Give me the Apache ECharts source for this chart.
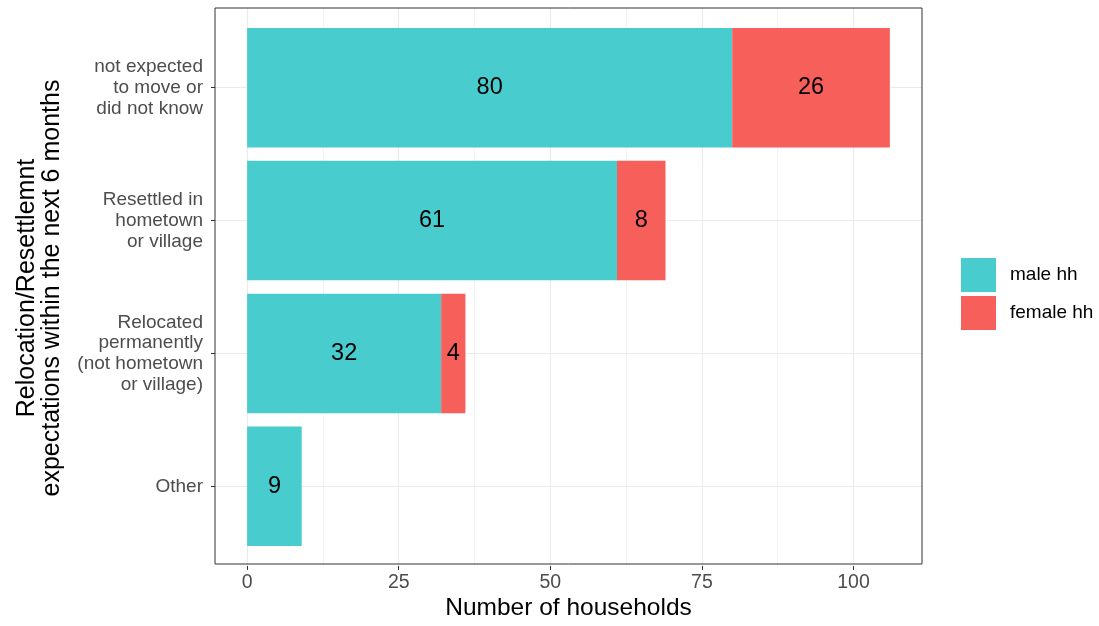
<!DOCTYPE html>
<html>
<head>
<meta charset="utf-8">
<script src="https://cdn.jsdelivr.net/npm/echarts@6/dist/echarts.min.js"></script>
<style>html,body{margin:0;padding:0;background:#fff}#c{width:1099px;height:626px}</style>
</head>
<body>
<div id="c"></div>
<script>
// ---- data (top to bottom) ----
const categories = [
  "not expected\nto move or\ndid not know",
  "Resettled in\nhometown\nor village",
  "Relocated\npermanently\n(not hometown\nor village)",
  "Other"
];
const maleHH = [80, 61, 32, 9];
const femaleHH = [26, 8, 4, 0];
const seriesNames = ["male hh", "female hh"];
const xTicks = [0, 25, 50, 75, 100];
const xTitle = "Number of households";
const yTitle = "Relocation/Resettlemnt\nexpectations within the next 6 months";

// ---- layout ----
const W = 1099, H = 626;
const panel = {left: 215, right: 922, top: 8, bottom: 566};
const totals = maleHH.map((v, i) => v + femaleHH[i]);
const dataMax = Math.max(...totals);
const xMin = -0.05 * dataMax, xMax = dataMax * 1.05;
const ppx = (panel.right - panel.left) / (xMax - xMin);
const nCat = categories.length;
const yLo = 0.4, yHi = nCat + 0.6;
const ppy = (panel.bottom - panel.top) / (yHi - yLo);

const g1 = {left: panel.left, top: panel.top, right: W - panel.right, bottom: H - panel.bottom};
const g2 = {left: panel.left, right: W - panel.right,
  top: panel.top + (yHi - (nCat + 0.5)) * ppy, bottom: H - panel.bottom + (0.5 - yLo) * ppy};
const tickLo = xTicks[0], tickHi = xTicks[xTicks.length - 1];
const g3 = {left: panel.left + (tickLo - xMin) * ppx, right: W - (panel.left + (tickHi - xMin) * ppx),
  top: panel.top, bottom: H - panel.bottom};
const g4 = {left: panel.left, right: W - panel.right,
  top: panel.top + (yHi - nCat) * ppy, bottom: H - panel.bottom + (1 - yLo) * ppy};

const FONT = "Liberation Sans, Arial, sans-serif";
const hidden = {show: false};

const chart = echarts.init(document.getElementById('c'), null, {renderer: 'canvas'});
chart.setOption({
  backgroundColor: '#fff',
  animation: false,
  textStyle: {fontFamily: FONT},
  grid: [
    Object.assign({show: true, borderColor: '#333333', borderWidth: 1, backgroundColor: 'transparent', z: 3}, g1),
    Object.assign({}, g2),
    Object.assign({}, g3),
    Object.assign({}, g4)
  ],
  xAxis: [
    {gridIndex: 0, type: 'value', min: xMin, max: xMax, axisLine: hidden, axisTick: hidden,
     axisLabel: hidden, splitLine: hidden,
     name: xTitle, nameLocation: 'middle', nameGap: 32,
     nameTextStyle: {fontSize: 24.5, color: '#000', fontFamily: FONT}},
    {gridIndex: 1, type: 'value', min: xMin, max: xMax, show: false},
    {gridIndex: 2, type: 'value', min: tickLo, max: tickHi, interval: 25,
     axisLine: {show: false, onZero: false},
     axisTick: {show: true, length: 4, lineStyle: {color: '#333333', width: 1}},
     axisLabel: {color: '#4D4D4D', fontSize: 19.5, margin: 7, fontFamily: FONT},
     splitLine: {show: true, lineStyle: {color: '#EBEBEB', width: 1.2}},
     minorTick: {show: false, splitNumber: 2},
     minorSplitLine: {show: true, lineStyle: {color: '#EBEBEB', width: 0.6}}},
    {gridIndex: 3, type: 'value', min: xMin, max: xMax, show: false}
  ],
  yAxis: [
    {gridIndex: 0, type: 'value', min: 0, max: 1, show: false},
    {gridIndex: 1, type: 'category', data: categories, inverse: true,
     axisLine: {show: false, onZero: false},
     axisTick: {show: true, alignWithLabel: true, length: 4, lineStyle: {color: '#333333', width: 1}},
     axisLabel: {color: '#4D4D4D', fontSize: 19, lineHeight: 20.7, margin: 12, align: 'right', fontFamily: FONT},
     splitLine: hidden},
    {gridIndex: 2, type: 'value', min: 0, max: 1, show: false},
    {gridIndex: 3, type: 'value', min: 1, max: nCat, interval: 1,
     axisLine: hidden, axisTick: hidden, axisLabel: hidden,
     splitLine: {show: true, lineStyle: {color: '#EBEBEB', width: 1.2}}}
  ],
  legend: {
    data: seriesNames, orient: 'vertical', left: 961, top: 258, padding: 0,
    itemWidth: 35, itemHeight: 34, itemGap: 4, icon: 'rect',
    textStyle: {fontSize: 19, color: '#000', fontFamily: FONT, padding: [0, 0, 0, 9]}
  },
  graphic: [{
    type: 'text', x: 40, y: (panel.top + panel.bottom) / 2 + 1, rotation: Math.PI / 2,
    style: {text: yTitle, fontSize: 25, lineHeight: 25, fill: '#000', fontFamily: FONT,
      align: 'center', verticalAlign: 'middle'}
  }],
  series: [
    {name: seriesNames[0], type: 'bar', stack: 'hh', xAxisIndex: 1, yAxisIndex: 1,
     data: maleHH, barWidth: '90%', itemStyle: {color: '#48CCCD'},
     label: {show: true, position: 'inside', color: '#000', fontSize: 23.5, fontFamily: FONT,
       formatter: p => p.value ? String(p.value) : ''}},
    {name: seriesNames[1], type: 'bar', stack: 'hh', xAxisIndex: 1, yAxisIndex: 1,
     data: femaleHH, barWidth: '90%', itemStyle: {color: '#F75F5A'},
     label: {show: true, position: 'inside', color: '#000', fontSize: 23.5, fontFamily: FONT,
       formatter: p => p.value ? String(p.value) : ''}}
  ]
});
</script>
</body>
</html>
